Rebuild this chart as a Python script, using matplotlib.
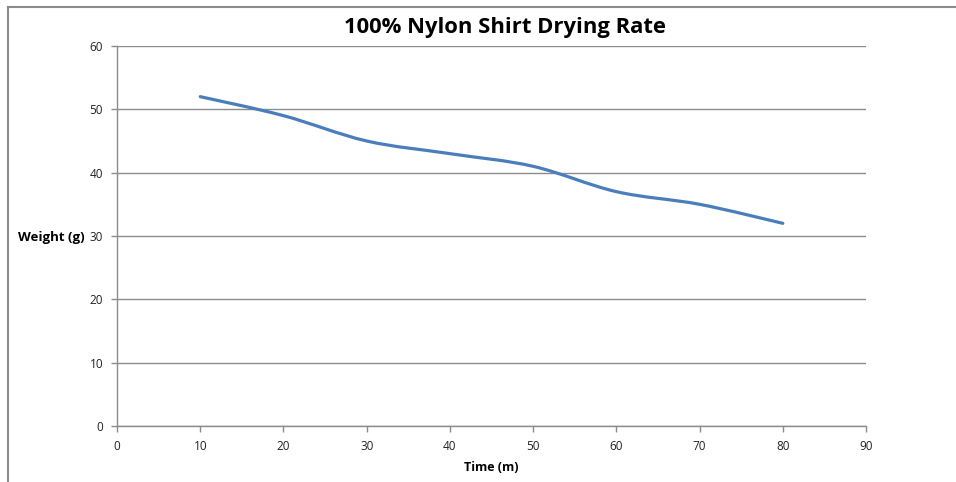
import numpy as np
import matplotlib.pyplot as plt
from matplotlib.path import Path
from matplotlib.patches import PathPatch
from matplotlib.lines import Line2D

time_m = [10, 20, 30, 40, 50, 60, 70, 80]
weight_g = [52, 49, 45, 43, 41, 37, 35, 32]

TITLE = "100% Nylon Shirt Drying Rate"
XLABEL = "Time (m)"
YLABEL = "Weight (g)"

plt.rcParams['font.family'] = ['Open Sans', 'DejaVu Sans']


def smooth_path(xs, ys):
    # Excel-style smoothed line: cubic bezier segments through the points
    pts = np.column_stack([xs, ys]).astype(float)
    n = len(pts)
    verts = [pts[0]]
    codes = [Path.MOVETO]
    for i in range(n - 1):
        p0 = pts[i - 1] if i > 0 else pts[i]
        p1 = pts[i]
        p2 = pts[i + 1]
        p3 = pts[i + 2] if i + 2 < n else pts[i + 1]
        c1 = p1 + (p2 - p0) / 6.0
        c2 = p2 - (p3 - p1) / 6.0
        verts += [c1, c2, p2]
        codes += [Path.CURVE4] * 3
    return Path(verts, codes)


fig = plt.figure(figsize=(9.56, 4.82), dpi=100)
ax = fig.add_axes([0.1224, 0.1162, 0.7835, 0.7884])

grid_c = "#8c8c8c"
ax.set_xlim(0, 90)
ax.set_ylim(0, 60)
ax.set_xticks(range(0, 91, 10))
ax.set_yticks(range(0, 61, 10))
ax.yaxis.grid(True, color=grid_c, linewidth=1)
ax.set_axisbelow(True)
for s in ["top", "right"]:
    ax.spines[s].set_visible(False)
for s in ["left", "bottom"]:
    ax.spines[s].set_color(grid_c)
    ax.spines[s].set_linewidth(1)
ax.tick_params(axis="both", colors=grid_c, length=4, width=1, labelsize=8.5,
               labelcolor="#222222", pad=6)

ax.add_patch(PathPatch(smooth_path(time_m, weight_g), facecolor="none",
                       edgecolor="#4a7ebb", linewidth=2.3, capstyle="round"))

fig.text(0.5283, 0.942, TITLE, ha="center", va="center", fontsize=15.8,
         fontweight="bold", color="#000000")
ax.set_xlabel(XLABEL, fontsize=9, fontweight="bold", labelpad=6)
fig.text(0.019, 0.508, YLABEL, ha="left", va="center", fontsize=9.5,
         fontweight="bold")

# outer chart border (top and left only visible in the crop)
fig.add_artist(Line2D([0.008, 1.0], [0.986, 0.986], color="#8c8c8c", lw=1.5,
                      transform=fig.transFigure))
fig.add_artist(Line2D([0.0085, 0.0085], [0.0, 0.986], color="#8c8c8c", lw=1.5,
                      transform=fig.transFigure))

fig.savefig("out.png", dpi=100)
